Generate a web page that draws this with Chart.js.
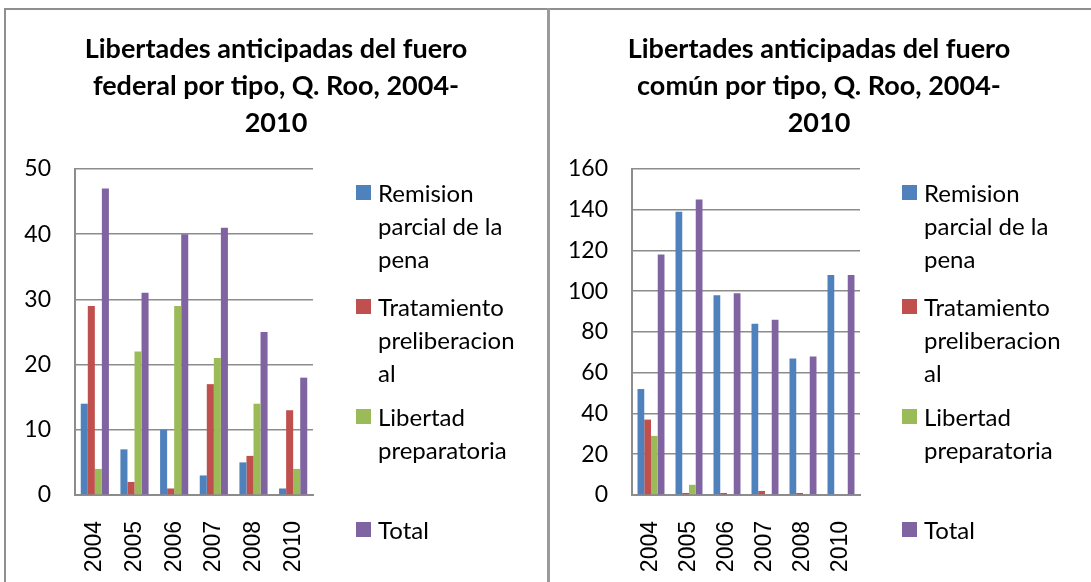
<!DOCTYPE html>
<html>
<head>
<meta charset="utf-8">
<script src="https://cdn.jsdelivr.net/npm/chart.js@4.4.1/dist/chart.umd.min.js"></script>
<style>
body { margin: 0; background: #fff; width: 1091px; height: 582px; overflow: hidden; position: relative; font-family: Lato, sans-serif; }
.frame-top { position: absolute; left: 4px; top: 8px; width: 1087px; height: 2px; background: #8f8f8f; }
.frame-left { position: absolute; left: 4px; top: 8px; width: 2px; height: 574px; background: #8f8f8f; }
.frame-mid { position: absolute; left: 547px; top: 8px; width: 3px; height: 574px; background: #9a9a9a; }
canvas { position: absolute; top: 10px; }
.legend { position: absolute; top: 0; left: 0; font-size: 24px; line-height: 33px; color: #000; }
.item { position: absolute; width: 180px; }
.sw { position: absolute; left: 0; top: 9px; width: 15px; height: 15px; }
.txt { position: absolute; left: 22px; top: 0; width: 160px; white-space: nowrap; }
</style>
</head>
<body>
<div class="frame-top"></div>
<div class="frame-left"></div>
<div class="frame-mid"></div>
<canvas id="federal" width="540" height="572" style="left:6px"></canvas>
<canvas id="comun" width="538" height="572" style="left:550px"></canvas>
<div id="legendFederal" class="legend"></div>
<div id="legendComun" class="legend"></div>

<script>
// data
var years = ['2004', '2005', '2006', '2007', '2008', '2010'];
var seriesNames = ['Remision parcial de la pena', 'Tratamiento preliberacional', 'Libertad preparatoria', 'Total'];
// legend text as wrapped in the original
var legendLines = [
    ['Remision', 'parcial de la', 'pena'],
    ['Tratamiento', 'preliberacion', 'al'],
    ['Libertad', 'preparatoria'],
    ['Total']
];

var federalRemision = [14, 7, 10, 3, 5, 1];
var federalTratamiento = [29, 2, 1, 17, 6, 13];
var federalLibertad = [4, 22, 29, 21, 14, 4];
var federalTotal = [47, 31, 40, 41, 25, 18];
var federalTicks = [0, 10, 20, 30, 40, 50];

var comunRemision = [52, 139, 98, 84, 67, 108];
var comunTratamiento = [37, 1, 1, 2, 1, 0];
var comunLibertad = [29, 5, 0, 0, 0, 0];
var comunTotal = [118, 145, 99, 86, 68, 108];
var comunTicks = [0, 20, 40, 60, 80, 100, 120, 140, 160];

var federalTitle = ['Libertades anticipadas del fuero', 'federal por tipo, Q. Roo, 2004-', '2010'];
var comunTitle = ['Libertades anticipadas del fuero', 'común por tipo, Q. Roo, 2004-', '2010'];

var colors = ['#4F81BD', '#C0504D', '#9BBB59', '#8064A2'];
var gridColor = '#8c8c8c';

function buildChart(id, title, series, ticks, yWidth, rightWidth) {
    var ctx = document.getElementById(id).getContext('2d');
    var datasets = series.map(function (values, i) {
        return {
            label: seriesNames[i],
            data: values,
            backgroundColor: colors[i],
            borderWidth: 0,
            barPercentage: 1,
            categoryPercentage: 0.71
        };
    });
    return new Chart(ctx, {
        type: 'bar',
        data: { labels: years, datasets: datasets },
        options: {
            responsive: false,
            animation: false,
            layout: { padding: 0 },
            plugins: {
                legend: { display: false },
                tooltip: { enabled: false },
                title: {
                    display: true,
                    text: title,
                    color: '#000',
                    font: { family: 'Lato', size: 27, weight: 'bold', lineHeight: 1.37 },
                    padding: { top: 21, bottom: 27 }
                }
            },
            scales: {
                x: {
                    grid: { display: false },
                    border: { display: true, color: gridColor, width: 2 },
                    ticks: {
                        color: '#000',
                        maxRotation: 90,
                        minRotation: 90,
                        padding: 18,
                        font: { family: 'Liberation Sans', size: 23 }
                    },
                    afterFit: function (s) { s.height = 87; }
                },
                y: {
                    min: ticks[0],
                    max: ticks[ticks.length - 1],
                    afterBuildTicks: function (s) {
                        s.ticks = ticks.map(function (v) { return { value: v }; });
                    },
                    grid: { color: gridColor, lineWidth: 1.5, drawTicks: false },
                    border: { color: gridColor, width: 2 },
                    ticks: {
                        color: '#000',
                        padding: 24,
                        font: { family: 'Lato', size: 23 }
                    },
                    afterFit: function (s) { s.width = yWidth; }
                },
                // empty axis that keeps room on the right for the legend
                pad: {
                    type: 'linear',
                    position: 'right',
                    grid: { display: false },
                    border: { display: false },
                    ticks: { display: false },
                    afterFit: function (s) { s.width = rightWidth; }
                }
            }
        }
    });
}

function buildLegend(id, left, tops) {
    var box = document.getElementById(id);
    legendLines.forEach(function (lines, i) {
        var item = document.createElement('div');
        item.className = 'item';
        item.style.left = left + 'px';
        item.style.top = tops[i] + 'px';
        var sw = document.createElement('div');
        sw.className = 'sw';
        sw.style.background = colors[i];
        var txt = document.createElement('div');
        txt.className = 'txt';
        txt.innerHTML = lines.join('<br>');
        item.appendChild(sw);
        item.appendChild(txt);
        box.appendChild(item);
    });
}

var legendTops = [176, 290, 400, 513];

buildChart('federal', federalTitle,
    [federalRemision, federalTratamiento, federalLibertad, federalTotal],
    federalTicks, 69, 233);
buildChart('comun', comunTitle,
    [comunRemision, comunTratamiento, comunLibertad, comunTotal],
    comunTicks, 82, 228);

buildLegend('legendFederal', 356, legendTops);
buildLegend('legendComun', 902, legendTops);
</script>
</body>
</html>
